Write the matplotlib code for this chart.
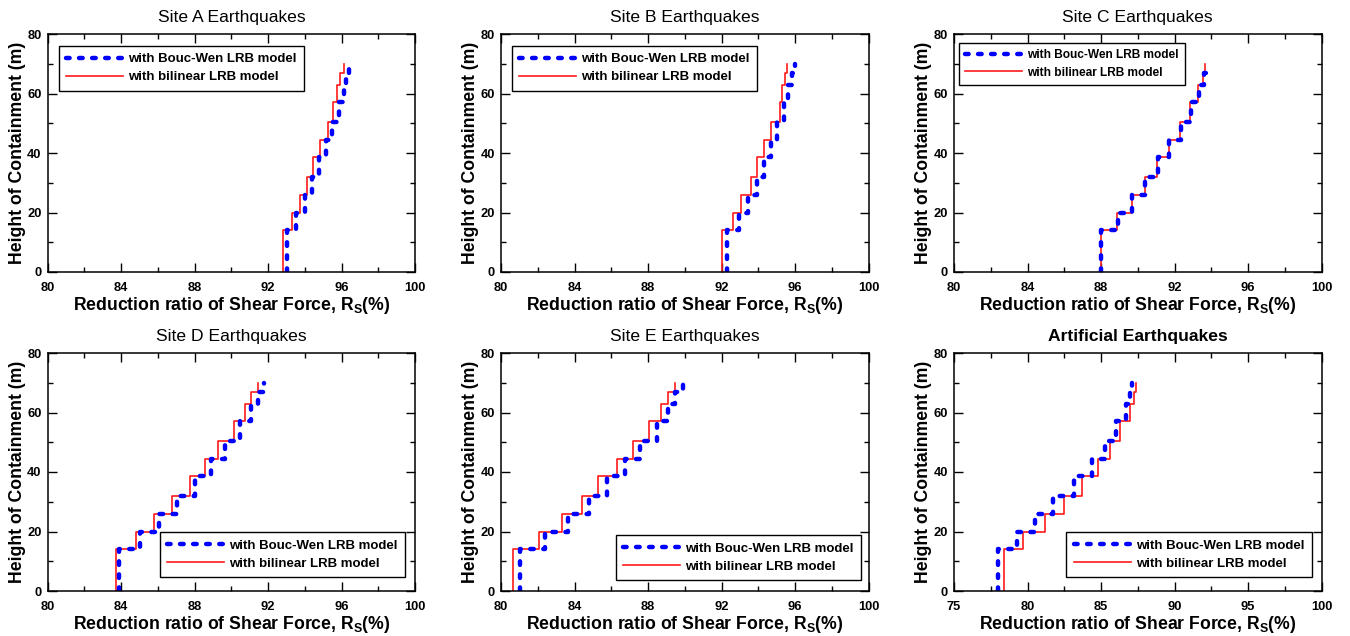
import numpy as np
import matplotlib
matplotlib.use("Agg")
import matplotlib.pyplot as plt
from matplotlib.ticker import MultipleLocator

plt.rcParams["font.family"] = ["Liberation Sans", "DejaVu Sans"]
plt.rcParams["font.weight"] = "bold"
plt.rcParams["mathtext.fontset"] = "custom"
plt.rcParams["mathtext.rm"] = "Liberation Sans:bold"
plt.rcParams["mathtext.bf"] = "Liberation Sans:bold"
plt.rcParams["lines.scale_dashes"] = False
plt.rcParams["xtick.labelsize"] = 9.3
plt.rcParams["ytick.labelsize"] = 9.3

# storey boundaries of the containment (m)
heights = [0, 14, 20, 26, 32, 38.5, 44.5, 50.5, 57, 63, 67, 70]

# reduction ratio per storey (%), Bouc-Wen vs bilinear LRB model
site_a_bw = [93.04, 93.53, 94.02, 94.38, 94.75, 95.13, 95.47, 95.84, 96.10, 96.25, 96.40]
site_a_bl = [92.78, 93.30, 93.71, 94.11, 94.43, 94.84, 95.23, 95.50, 95.74, 95.89, 96.10]
site_b_bw = [92.31, 92.94, 93.43, 93.91, 94.31, 94.71, 95.04, 95.42, 95.64, 95.82, 95.98]
site_b_bl = [92.00, 92.62, 93.07, 93.58, 93.95, 94.31, 94.67, 95.18, 95.31, 95.45, 95.58]
site_c_bw = [88.00, 88.90, 89.70, 90.40, 91.08, 91.72, 92.35, 92.90, 93.32, 93.58, 93.72]
site_c_bl = [88.00, 88.87, 89.67, 90.39, 91.06, 91.69, 92.31, 92.86, 93.29, 93.53, 93.65]
site_d_bw = [83.89, 85.04, 86.04, 87.04, 88.04, 88.86, 89.64, 90.47, 91.07, 91.42, 91.76]
site_d_bl = [83.69, 84.80, 85.80, 86.78, 87.75, 88.56, 89.29, 90.16, 90.73, 91.09, 91.46]
site_e_bw = [81.02, 82.42, 83.66, 84.78, 85.78, 86.73, 87.58, 88.51, 89.11, 89.49, 89.91]
site_e_bl = [80.66, 82.05, 83.33, 84.42, 85.27, 86.31, 87.18, 88.07, 88.71, 89.07, 89.47]
art_bw = [78.02, 79.27, 80.48, 81.73, 83.14, 84.39, 85.30, 86.03, 86.73, 86.95, 87.12]
art_bl = [78.43, 79.69, 81.20, 82.45, 83.70, 84.80, 85.64, 86.27, 87.00, 87.27, 87.41]

titles = ["Site A Earthquakes", "Site B Earthquakes", "Site C Earthquakes",
          "Site D Earthquakes", "Site E Earthquakes", "Artificial Earthquakes"]
bw_sets = [site_a_bw, site_b_bw, site_c_bw, site_d_bw, site_e_bw, art_bw]
bl_sets = [site_a_bl, site_b_bl, site_c_bl, site_d_bl, site_e_bl, art_bl]

label_bw = "with Bouc-Wen LRB model"
label_bl = "with bilinear LRB model"


def staircase(vals, hs):
    xs = np.repeat(vals, 2)
    ys = np.column_stack([hs[:-1], hs[1:]]).ravel()
    return xs, ys


W, H = 1350, 636
fig = plt.figure(figsize=(W / 100, H / 100), dpi=100)

lefts = [47.7, 501, 954]
tops = [34, 353]
aw, ah = 367.5, 238

# legend corner offsets from the axes frame, in pixels
leg_insets = [(11, 11.7), (11, 11.7), (4.7, 8.7), (10, 14), (7.3, 11), (10, 14)]

for i in range(6):
    r, c = divmod(i, 3)
    ax = fig.add_axes([lefts[c] / W, 1 - (tops[r] + ah) / H, aw / W, ah / H])

    xs, ys = staircase(bl_sets[i], heights)
    l_bl, = ax.plot(xs, ys, color="#ff1a1a", lw=1.2, label=label_bl)
    xs, ys = staircase(bw_sets[i], heights)
    l_bw, = ax.plot(xs, ys, color="#0000ff", lw=3.2, label=label_bw,
                    dashes=(2.6, 6.8), dash_capstyle="round")

    if i == 5:
        ax.set_xlim(75, 100)
        ax.xaxis.set_major_locator(MultipleLocator(5))
        ax.xaxis.set_minor_locator(MultipleLocator(2.5))
    else:
        ax.set_xlim(80, 100)
        ax.xaxis.set_major_locator(MultipleLocator(4))
        ax.xaxis.set_minor_locator(MultipleLocator(2))
    ax.set_ylim(0, 80)
    ax.yaxis.set_major_locator(MultipleLocator(20))
    ax.yaxis.set_minor_locator(MultipleLocator(10))

    ax.tick_params(which="both", direction="in", top=True, right=True, width=1)
    ax.tick_params(which="major", length=6.5)
    ax.tick_params(which="minor", length=3.6)
    ax.tick_params(axis="x", pad=7)
    ax.tick_params(axis="y", pad=4.5)
    for sp in ax.spines.values():
        sp.set_linewidth(1.1)

    ax.set_title(titles[i], fontsize=12.6, pad=9,
                 fontweight="bold" if i == 5 else "normal")
    ax.set_xlabel("Reduction ratio of Shear Force, R$_\\mathbf{S}$(%)",
                  fontsize=12.7, fontweight="bold")
    ax.set_ylabel("Height of Containment (m)", fontsize=12.7, fontweight="bold")
    ax.xaxis.set_label_coords(0.5, -0.095)
    ax.yaxis.set_label_coords(-0.060, 0.5)

    fs = 8.55 if i == 2 else 9.5
    em = fs * 100 / 72
    opts = dict(handles=[l_bw, l_bl], borderaxespad=0, fontsize=fs,
                handlelength=57 / em, handletextpad=5 / em, labelspacing=0.45,
                borderpad=0.55, fancybox=False, edgecolor="black",
                framealpha=1)
    dx, dy = leg_insets[i]
    if r == 0:
        leg = ax.legend(loc="upper left",
                        bbox_to_anchor=(dx / aw, 1 - dy / ah), **opts)
    else:
        leg = ax.legend(loc="lower right",
                        bbox_to_anchor=(1 - dx / aw, dy / ah), **opts)
    leg.get_frame().set_linewidth(1.0)

fig.savefig("out.png", dpi=100)
